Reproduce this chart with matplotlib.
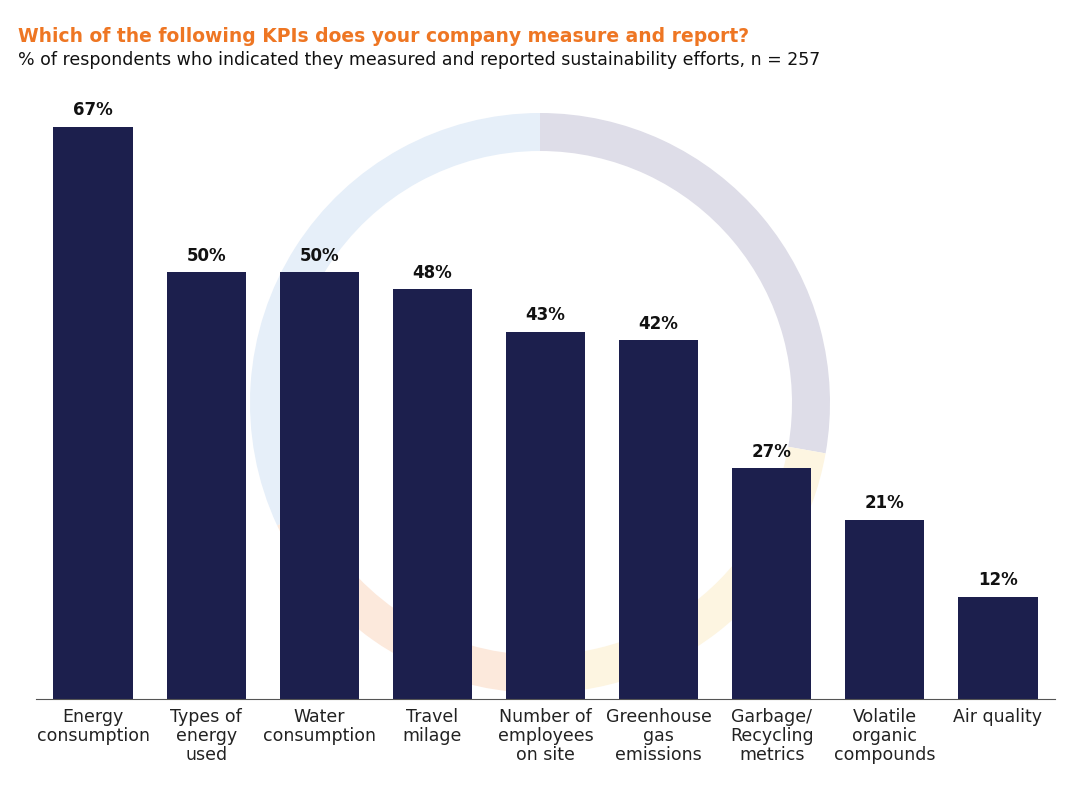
import matplotlib.pyplot as plt
from matplotlib.patches import Wedge

categories = ["Energy\nconsumption", "Types of\nenergy\nused", "Water\nconsumption", "Travel\nmilage",
              "Number of\nemployees\non site", "Greenhouse\ngas\nemissions", "Garbage/\nRecycling\nmetrics",
              "Volatile\norganic\ncompounds", "Air quality"]
values = [67, 50, 50, 48, 43, 42, 27, 21, 12]

W, H = 1081, 812
fig = plt.figure(figsize=(W / 100, H / 100), dpi=100)

# background ring, pixel coords (y down)
bg = fig.add_axes([0, 0, 1, 1])
bg.set_xlim(0, W)
bg.set_ylim(H, 0)
bg.axis("off")
cx, cy, r = 540, 404, 290
segs = [(90, 205, "#e6eff9"), (-10, 90, "#dedde8"), (-95, -10, "#fdf5e1"), (205, 265, "#fce9dc")]
for a1, a2, col in segs:
    # y axis inverted -> negate angles
    bg.add_patch(Wedge((cx, cy), r, -a2, -a1, width=38, color=col, lw=0))

ax = fig.add_axes([36.5 / W, (H - 700) / H, 1018 / W, 683 / H])
ax.patch.set_alpha(0)
x = range(len(values))
ax.bar(x, values, width=0.7, color="#1c1f4d")
for i, v in zip(x, values):
    ax.text(i, v + 1, f"{v}%", ha="center", va="bottom", fontsize=12, fontweight="bold", color="#111111")
ax.set_xlim(-0.5, len(values) - 0.5)
ax.set_ylim(0, 80)
ax.set_yticks([])
ax.set_xticks(list(x))
ax.set_xticklabels(categories, fontsize=12.5, color="#222222", linespacing=1.05)
ax.tick_params(axis="x", length=0, pad=6)
for s in ["top", "right", "left"]:
    ax.spines[s].set_visible(False)
ax.spines["bottom"].set_color("#555555")

fig.text(18 / W, 1 - 36 / H, "Which of the following KPIs does your company measure and report?",
         fontsize=13.5, fontweight="bold", color="#ee7623", va="center")
fig.text(18 / W, 1 - 60 / H, "% of respondents who indicated they measured and reported sustainability efforts, n = 257",
         fontsize=12.5, color="#111111", va="center")

fig.savefig("out.png", dpi=100)
